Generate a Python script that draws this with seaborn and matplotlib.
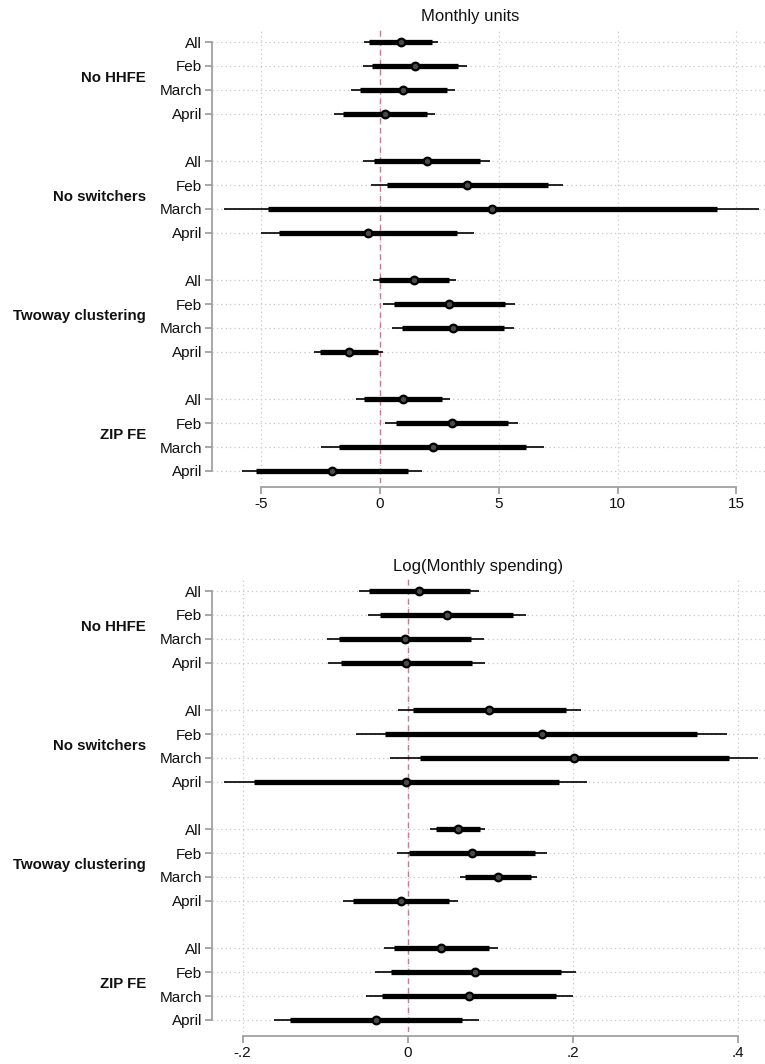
import numpy as np
import pandas as pd
import matplotlib
matplotlib.use("Agg")
import matplotlib.pyplot as plt
import matplotlib.transforms as mtransforms
import seaborn as sns

groups = ["No HHFE", "No switchers", "Twoway clustering", "ZIP FE"]
months = ["All", "Feb", "March", "April"]

# Panel 1: Monthly units
units_est = [0.88, 1.48, 0.98, 0.20,
             1.97, 3.67, 4.71, -0.52,
             1.45, 2.91, 3.08, -1.32,
             0.97, 3.03, 2.21, -2.02]
units_lo90 = [-0.45, -0.35, -0.85, -1.56,
              -0.26, 0.29, -4.71, -4.27,
              -0.05, 0.59, 0.91, -2.53,
              -0.68, 0.68, -1.71, -5.21]
units_hi90 = [2.20, 3.30, 2.80, 1.97,
              4.21, 7.06, 14.17, 3.26,
              2.92, 5.24, 5.23, -0.09,
              2.62, 5.38, 6.15, 1.17]
units_lo95 = [-0.68, -0.71, -1.20, -1.92,
              -0.70, -0.36, -6.55, -5.00,
              -0.29, 0.14, 0.50, -2.76,
              -1.00, 0.20, -2.47, -5.80]
units_hi95 = [2.45, 3.68, 3.15, 2.30,
              4.64, 7.71, 15.95, 3.97,
              3.18, 5.68, 5.65, 0.14,
              2.95, 5.82, 6.89, 1.77]

# Panel 2: Log(Monthly spending)
spend_est = [0.0135, 0.0475, -0.003, -0.002,
             0.099, 0.1625, 0.202, -0.002,
             0.061, 0.078, 0.110, -0.008,
             0.0405, 0.082, 0.074, -0.038]
spend_lo90 = [-0.047, -0.033, -0.083, -0.081,
              0.0065, -0.027, 0.015, -0.186,
              0.034, 0.002, 0.070, -0.066,
              -0.017, -0.020, -0.031, -0.142]
spend_hi90 = [0.075, 0.128, 0.077, 0.078,
              0.192, 0.351, 0.389, 0.183,
              0.088, 0.154, 0.149, 0.050,
              0.098, 0.186, 0.180, 0.066]
spend_lo95 = [-0.059, -0.048, -0.098, -0.097,
              -0.012, -0.063, -0.021, -0.222,
              0.027, -0.013, 0.063, -0.078,
              -0.029, -0.039, -0.051, -0.162]
spend_hi95 = [0.087, 0.143, 0.093, 0.094,
              0.210, 0.387, 0.425, 0.217,
              0.094, 0.169, 0.157, 0.061,
              0.110, 0.204, 0.200, 0.086]

units_ticks = [-5, 0, 5, 10, 15]
units_ticklabels = ["-5", "0", "5", "10", "15"]
spend_ticks = [-0.2, 0, 0.2, 0.4]
spend_ticklabels = ["-.2", "0", ".2", ".4"]

sns.set_theme(style="white")
plt.rcParams["font.family"] = ["Liberation Sans", "DejaVu Sans"]

W, H = 765, 1064
fig = plt.figure(figsize=(W / 100, H / 100), dpi=100)


def make_df(est, lo90, hi90, lo95, hi95):
    rows = []
    for gi, g in enumerate(groups):
        for mi, m in enumerate(months):
            k = gi * 4 + mi
            rows.append(dict(group=g, month=m, pos=gi * 5 + mi,
                             est=est[k], lo90=lo90[k], hi90=hi90[k],
                             lo95=lo95[k], hi95=hi95[k]))
    return pd.DataFrame(rows)


def draw_panel(rect, df, xlim, ticks, ticklabels, title, title_xy):
    ax = fig.add_axes(rect)
    grid_c = "#c8c8c8"
    for p in df["pos"]:
        ax.axhline(p, color=grid_c, lw=0.9, ls=(0, (1, 2.5)), zorder=0)
    for t in ticks:
        ax.axvline(t, color=grid_c, lw=0.9, ls=(0, (1, 2.5)), zorder=0)
    ax.axvline(0, color="#d8709f", lw=1.0, ls=(0, (4, 3)), zorder=1)
    ax.hlines(df["pos"], df["lo95"], df["hi95"], color="black", lw=1.2, zorder=2)
    ax.hlines(df["pos"], df["lo90"], df["hi90"], color="black", lw=3.8, zorder=3)
    sns.scatterplot(data=df, x="est", y="pos", ax=ax, s=30, color="#4a4a4a",
                    edgecolor="black", linewidth=1.6, zorder=4, legend=False)
    ax.set_xlim(*xlim)
    ax.set_ylim(df["pos"].max() + 0.5, -0.5)
    ax.set_yticks(df["pos"])
    ax.set_yticklabels(df["month"])
    ax.set_xticks(ticks)
    ax.set_xticklabels(ticklabels)
    ax.set_xlabel("")
    ax.set_ylabel("")
    for s in ["top", "right"]:
        ax.spines[s].set_visible(False)
    spc = "#a0a0a0"
    ax.spines["left"].set_color(spc)
    ax.spines["bottom"].set_color(spc)
    ax.spines["left"].set_linewidth(1.3)
    ax.spines["bottom"].set_linewidth(1.3)
    ax.spines["left"].set_bounds(df["pos"].min(), df["pos"].max())
    ax.spines["bottom"].set_bounds(ticks[0], ticks[-1])
    ax.spines["bottom"].set_position(("outward", 3))
    ax.tick_params(axis="both", which="both", length=5, width=1.3, color=spc,
                   labelsize=11, labelcolor="#111111", left=True, bottom=True)
    ax.tick_params(axis="y", pad=2)
    ax.tick_params(axis="x", pad=2)
    trans = mtransforms.blended_transform_factory(fig.transFigure, ax.transData)
    for gi, g in enumerate(groups):
        ax.text(146 / W, gi * 5 + 1.5, g, transform=trans, ha="right", va="center",
                fontsize=10.8, fontweight="bold", color="#111111")
    fig.text(title_xy[0] / W, 1 - title_xy[1] / H, title, ha="center", va="center",
             fontsize=12, color="#111111")
    return ax


df1 = make_df(units_est, units_lo90, units_hi90, units_lo95, units_hi95)
df2 = make_df(spend_est, spend_lo90, spend_hi90, spend_lo95, spend_hi95)

row = 23.83
top1 = 42 - row / 2
bot1 = 471 + row / 2
draw_panel([212 / W, 1 - bot1 / H, 1 - 212 / W, (bot1 - top1) / H], df1,
           (-7.07, 16.2), units_ticks, units_ticklabels, "Monthly units", (470, 17))

top2 = 591 - row / 2
bot2 = 1020 + row / 2
draw_panel([212 / W, 1 - bot2 / H, 1 - 212 / W, (bot2 - top2) / H], df2,
           (-0.237, 0.433), spend_ticks, spend_ticklabels, "Log(Monthly spending)", (478, 567))

fig.savefig("out.png", dpi=100)
